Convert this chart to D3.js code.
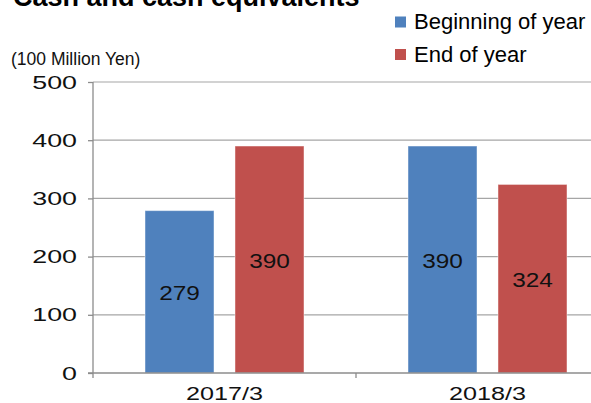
<!DOCTYPE html>
<html>
<head>
<meta charset="utf-8">
<script src="https://cdn.jsdelivr.net/npm/d3@7"></script>
<style>
	body { margin: 0; background: #fff; }
	svg { display: block; font-family: "Liberation Sans", Arial, sans-serif; }
</style>
</head>
<body>
<div id="chart"></div>
<script>
// data
const categories = ["2017/3", "2018/3"];
const series = ["Beginning of year", "End of year"];
const beginningOfYear = [279, 390];
const endOfYear = [390, 324];
const yTicks = [0, 100, 200, 300, 400, 500];

const colors = ["#4F81BD", "#C0504D"];

let width = 591;
let height = 403;
let margin = ({top: 82, right: -28, bottom: 30, left: 93});

let rows = categories.map((c, i) => ({
	category: c,
	values: [beginningOfYear[i], endOfYear[i]]
}));

const svg = d3.select("#chart").append("svg")
	.attr("width", width)
	.attr("height", height);

let x0 = d3.scaleBand()
	.domain(categories)
	.range([margin.left, width - margin.right])
	.padding(0);

let x1 = d3.scaleBand()
	.domain(series)
	.range([0, x0.bandwidth()])
	.paddingInner(0.2333)
	.paddingOuter(0.578);

let y = d3.scaleLinear()
	.domain([0, 500])
	.range([height - margin.bottom, margin.top]);

// gridlines
svg.append("g")
	.selectAll("line")
	.data(yTicks.filter(d => d > 0))
	.enter().append("line")
		.attr("x1", margin.left)
		.attr("x2", width)
		.attr("y1", d => y(d))
		.attr("y2", d => y(d))
		.attr("stroke", "#a6a6a6")
		.attr("stroke-width", 1.2);

// y axis
let yAxis = g => g
	.attr("transform", `translate(${margin.left},0)`)
	.call(d3.axisLeft(y).tickValues(yTicks).tickSize(5).tickPadding(0))
	.call(g => g.selectAll("line, path").attr("stroke", "#8c8c8c").attr("stroke-width", 1.3))
	.call(g => g.select(".domain").attr("d", `M0,${y(0)}V${y(500)}`))
	.call(g => g.selectAll("text").remove());

svg.append("g").call(yAxis);

svg.append("g")
	.selectAll("text")
	.data(yTicks)
	.enter().append("text")
		.attr("transform", d => `translate(77,${y(d) + 6.5}) scale(1.45,1)`)
		.attr("text-anchor", "end")
		.attr("font-size", 18.5)
		.attr("fill", "#111")
		.text(d => d);

// bars
const g = svg.append("g")
	.selectAll("g")
	.data(rows)
	.enter().append("g")
		.attr("transform", d => `translate(${x0(d.category)},0)`);

g.selectAll("rect")
	.data(d => d.values.map((v, i) => ({series: series[i], value: v, i: i})))
	.enter().append("rect")
		.attr("x", d => x1(d.series))
		.attr("width", x1.bandwidth())
		.attr("y", d => y(d.value))
		.attr("height", d => y(0) - y(d.value))
		.attr("fill", d => colors[d.i])
		.attr("stroke", "rgba(255,255,255,0.45)")
		.attr("stroke-width", 1);

g.selectAll("text")
	.data(d => d.values.map((v, i) => ({series: series[i], value: v, i: i})))
	.enter().append("text")
		.attr("transform", d => `translate(${x1(d.series) + x1.bandwidth() / 2},${(y(d.value) + y(0)) / 2 + 8}) scale(1.25,1)`)
		.attr("text-anchor", "middle")
		.attr("font-size", 19.5)
		.attr("fill", "#111")
		.text(d => d.value);

// x axis
svg.append("g")
	.append("path")
		.attr("d", `M88,${y(0)}H${width}`)
		.attr("stroke", "#8c8c8c")
		.attr("stroke-width", 1.3);

svg.append("g")
	.selectAll("line")
	.data(categories)
	.enter().append("line")
		.attr("x1", d => x0(d))
		.attr("x2", d => x0(d))
		.attr("y1", y(0))
		.attr("y2", y(0) + 5)
		.attr("stroke", "#8c8c8c")
		.attr("stroke-width", 1.3);

svg.append("g")
	.selectAll("text")
	.data(categories)
	.enter().append("text")
		.attr("transform", d => `translate(${x0(d) + x0.bandwidth() / 2},400) scale(1.36,1)`)
		.attr("text-anchor", "middle")
		.attr("font-size", 18.5)
		.attr("fill", "#111")
		.text(d => d);

// title (cut off at the top, as in the reference) and unit
svg.append("text")
	.attr("x", 13)
	.attr("y", 6)
	.attr("font-size", 27)
	.attr("font-weight", "bold")
	.attr("fill", "#000")
	.text("Cash and cash equivalents");

svg.append("text")
	.attr("x", 11)
	.attr("y", 65)
	.attr("font-size", 17.5)
	.attr("fill", "#111")
	.text("(100 Million Yen)");

// legend
const legend = svg.append("g")
	.selectAll("g")
	.data(series)
	.enter().append("g")
		.attr("transform", (d, i) => `translate(395,${16.5 + i * 32.5})`);

legend.append("rect")
	.attr("width", 11)
	.attr("height", 11)
	.attr("fill", (d, i) => colors[i]);

legend.append("text")
	.attr("x", 19)
	.attr("y", 12.8)
	.attr("font-size", 22)
	.attr("fill", "#000")
	.text(d => d);
</script>
</body>
</html>
